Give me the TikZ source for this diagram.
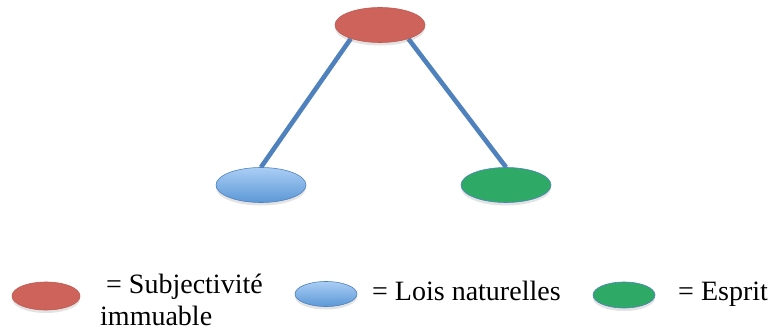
\documentclass[tikz,border=0pt]{standalone}
\usepackage{fontspec}
\setmainfont{Liberation Serif}
\newfontfamily\tnr{Liberation Serif}
\usetikzlibrary{shapes.geometric,shadows,backgrounds}
\definecolor{redF}{RGB}{205,99,90}
\definecolor{redD}{RGB}{190,90,82}
\definecolor{blueT}{RGB}{170,206,245}
\definecolor{blueB}{RGB}{92,152,214}
\definecolor{blueD}{RGB}{80,130,190}
\definecolor{greenF}{RGB}{46,170,102}
\definecolor{linkC}{RGB}{79,129,189}
\begin{document}
\begin{tikzpicture}[x=1pt,y=-1pt,
  ell/.style={ellipse, inner sep=0pt, line width=0.6pt,
    drop shadow={shadow xshift=0pt,shadow yshift=-3pt,opacity=0.22}},
  bigE/.style={ell,minimum width=90pt,minimum height=35pt},
  smallE/.style={ell,minimum width=64pt,minimum height=26pt},
  redE/.style={fill=redF,draw=redD},
  blueE/.style={top color=blueT,bottom color=blueB,draw=blueD},
  greenE/.style={fill=greenF,draw=blueD},
  link/.style={draw=linkC,line width=4.6pt},
  lbl/.style={font=\tnr\fontsize{28}{32}\selectfont,inner sep=0pt,anchor=base west}]
\useasboundingbox (0,0) rectangle (773,332);
% diagram
\node[bigE,redE] (top) at (380,25) {};
\node[bigE,blueE] (lois) at (261,185) {};
\node[bigE,greenE] (esprit) at (506,185) {};
\begin{pgfonlayer}{background}
\fill[white] (0,0) rectangle (773,332);
\draw[link] (top.205) -- (lois.north);
\draw[link] (top.334) -- (esprit.north);
\end{pgfonlayer}
% legend
\node[smallE,redE,minimum width=68pt,minimum height=28pt] (kred) at (46,296) {};
\node[smallE,blueE,minimum width=62pt,minimum height=25pt] (kblue) at (326,294) {};
\node[smallE,greenE,minimum width=62pt,minimum height=26pt] (kgreen) at (624,295) {};
\node[lbl] (t1) at (106,293) {= Subjectivité};
\node[lbl] (t1b) at (100,325) {immuable};
\node[lbl] (t2) at (372,300) {= Lois naturelles};
\node[lbl] (t3) at (678,300) {= Esprit};
\end{tikzpicture}
\end{document}
